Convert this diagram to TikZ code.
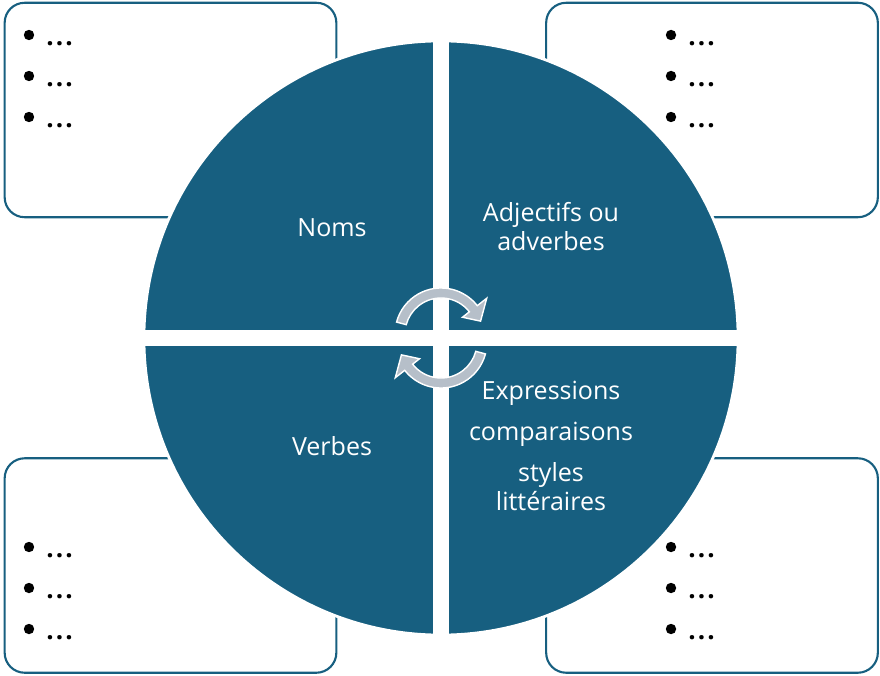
\documentclass[tikz,border=0pt]{standalone}
\usepackage{fontspec}
\setmainfont{Open Sans}
\usetikzlibrary{positioning}
\definecolor{pieblue}{RGB}{23,95,128}
\definecolor{turngray}{RGB}{182,191,201}

\begin{document}
\begin{tikzpicture}[x=0.025cm,y=-0.025cm,
    panel/.style={draw=pieblue,line width=1.5pt,rounded corners=0.5cm,
                  minimum width=8.29cm,minimum height=5.36cm},
    bul/.style={circle,fill=black,inner sep=0pt,minimum size=0.26cm},
    etc/.style={anchor=base west,inner sep=0pt,font=\fontsize{18.5}{20.6}\selectfont\bfseries},
    lab/.style={text=white,align=center,inner sep=0pt,font=\fontsize{17.8}{20.6}\selectfont},
    turn/.style={fill=turngray,draw=white,line width=1pt}]

\useasboundingbox (0,0) rectangle (880,676);

% the four boxes
\node[panel] (tl) at (170.5,110) {};
\node[panel] (tr) at (712,110) {};
\node[panel] (bl) at (170.5,565.5) {};
\node[panel] (br) at (712,565.5) {};

% bullets
\foreach \b/\x/\y in {tl/29/35, tr/671/35, bl/29/547, br/671/547}
  \foreach \i in {0,1,2} {
    \node[bul] (\b\i) at (\x,\y+41*\i) {};
    \node[etc] (\b\i t) at (\x+17,\y+41*\i+10.5) {.\kern1.5pt.\kern1.5pt.};
  }

% the disc and the cross
\fill[pieblue,draw=white,line width=2pt] (441,338) circle[radius=7.425cm];
\draw[white,line width=0.4cm] (441,36) -- (441,640);
\draw[white,line width=0.4cm] (140,338) -- (742,338);

\node[lab] (noms) at (332,228) {Noms};
\node[lab] (adj) at (551,227) {Adjectifs ou\\adverbes};
\node[lab] (verbes) at (332,446) {Verbes};
\node[lab] (expr) at (551,446) {Expressions\\[8.5pt]comparaisons\\[8.5pt]styles\\littéraires};

% circular arrows
\begin{scope}[shift={(441,338)},x=1cm,y=1cm]
  \foreach \r in {0,180}
    \draw[turn,rotate=\r,shift={(0,0.1)}]
      (165:1.15) arc[start angle=165,end angle=38,radius=1.15]
      -- (38:1.45) -- (18:1.04) -- (38:0.68) -- (38:0.9)
      arc[start angle=38,end angle=165,radius=0.9] -- cycle;
\end{scope}
\end{tikzpicture}
\end{document}
